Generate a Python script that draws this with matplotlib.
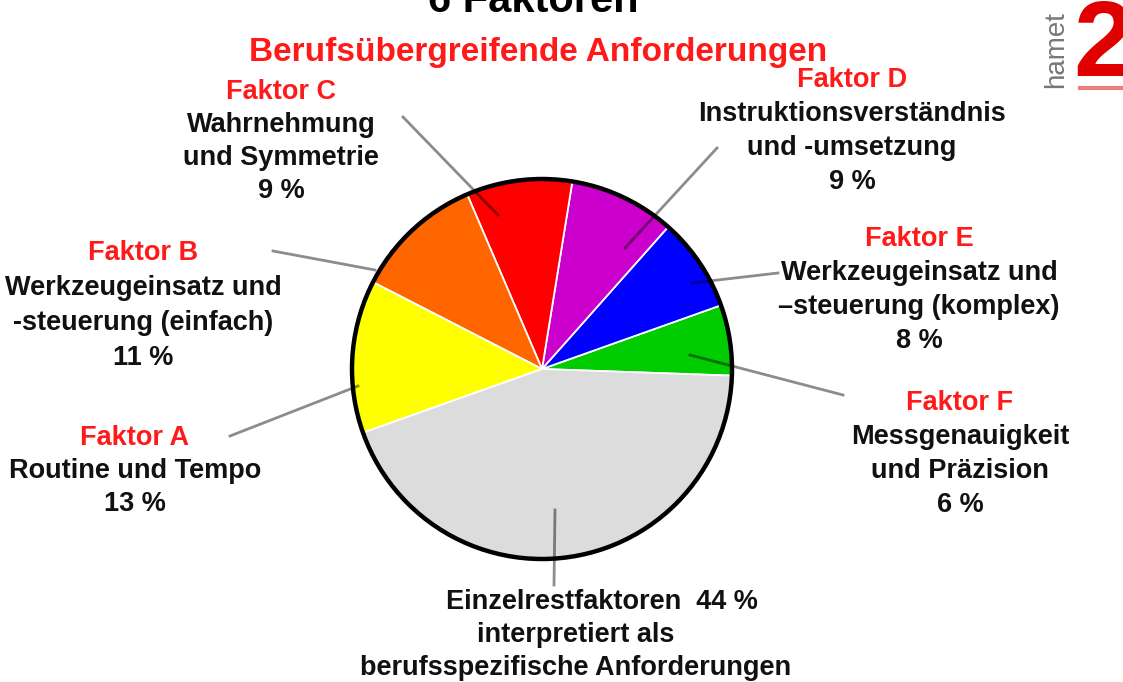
import matplotlib.pyplot as plt
from matplotlib.patches import Circle

plt.rcParams['font.family'] = ['Liberation Sans', 'DejaVu Sans']

# slices, counterclockwise from the right edge
factors = ['Faktor F', 'Faktor E', 'Faktor D', 'Faktor C', 'Faktor B', 'Faktor A', '']
descriptions = [
    'Messgenauigkeit\nund Präzision',
    'Werkzeugeinsatz und\n–steuerung (komplex)',
    'Instruktionsverständnis\nund -umsetzung',
    'Wahrnehmung\nund Symmetrie',
    'Werkzeugeinsatz und\n-steuerung (einfach)',
    'Routine und Tempo',
    'Einzelrestfaktoren',
]
shares = [6, 8, 9, 9, 11, 13, 44]
colors = ['#00cc00', '#0000ff', '#cc00cc', '#ff0000', '#ff6600', '#ffff00', '#dcdcdc']

title = '6 Faktoren'
subtitle = 'Berufsübergreifende Anforderungen'
rest_text = ['interpretiert als', 'berufsspezifische Anforderungen']

W, H = 1123, 682


def Y(y):
    return H - y


fig = plt.figure(figsize=(W / 100, H / 100), dpi=100)
ax = fig.add_axes([0, 0, 1, 1])

cx, cy, r = 542, 369, 190
ax.pie(shares, colors=colors, startangle=-2, counterclock=True,
       center=(cx, Y(cy)), radius=r,
       wedgeprops=dict(edgecolor='white', linewidth=1.3))
ax.add_patch(Circle((cx, Y(cy)), r, fill=False, edgecolor='black', lw=3.2, zorder=5))
ax.set_xlim(0, W)
ax.set_ylim(0, H)
ax.set_aspect('equal')
ax.axis('off')

# label blocks: (x, y of factor line, line spacing)
label_pos = {
    'Faktor F': (960, 403, 34),
    'Faktor E': (919, 239, 34),
    'Faktor D': (852, 80, 34),
    'Faktor C': (281, 92, 33),
    'Faktor B': (143, 253, 35),
    'Faktor A': (135, 438, 33),
}
red = '#ff1a1a'
fs = 19.5
for f, d, s in zip(factors, descriptions, shares):
    if not f:
        continue
    x, y, dy = label_pos[f]
    ax.text(x, Y(y), f, color=red, fontsize=fs, fontweight='bold', ha='center', va='center')
    lines = d.split('\n') + [f'{s} %']
    for i, line in enumerate(lines):
        ax.text(x, Y(y + dy * (i + 1)), line, color='#111111', fontsize=fs,
                fontweight='bold', ha='center', va='center')

# rest slice
ax.text(602, Y(602), f'{descriptions[-1]}  {shares[-1]} %', color='#111111', fontsize=fs,
        fontweight='bold', ha='center', va='center')
for i, line in enumerate(rest_text):
    ax.text(576, Y(635 + 33 * i), line, color='#111111', fontsize=fs,
            fontweight='bold', ha='center', va='center')

# leader lines
leaders = [
    ((843, 395), (690, 355)),
    ((778, 273), (692, 283)),
    ((717, 148), (625, 248)),
    ((403, 117), (498, 215)),
    ((273, 251), (375, 270)),
    ((230, 436), (358, 386)),
    ((554, 585), (555, 510)),
]
for (x0, y0), (x1, y1) in leaders:
    ax.plot([x0, x1], [Y(y0), Y(y1)], color='black', alpha=0.45, lw=2, zorder=6)

# titles (top one is cut by the image edge, as in the original)
ax.text(533, Y(12), title, color='black', fontsize=30, fontweight='bold', ha='center', va='baseline')
ax.text(538, Y(61), subtitle, color=red, fontsize=24, fontweight='bold', ha='center', va='baseline')

# logo
ax.text(1056, Y(50), 'hamet', color='#777777', fontsize=20, rotation=90, ha='center', va='center')
ax.text(1103, Y(48), '2', color='#e00000', fontsize=78, fontweight='bold', ha='center', va='center')
ax.plot([1080, 1123], [Y(88), Y(88)], color='#e88080', lw=3)

fig.savefig('out.png', dpi=100)
